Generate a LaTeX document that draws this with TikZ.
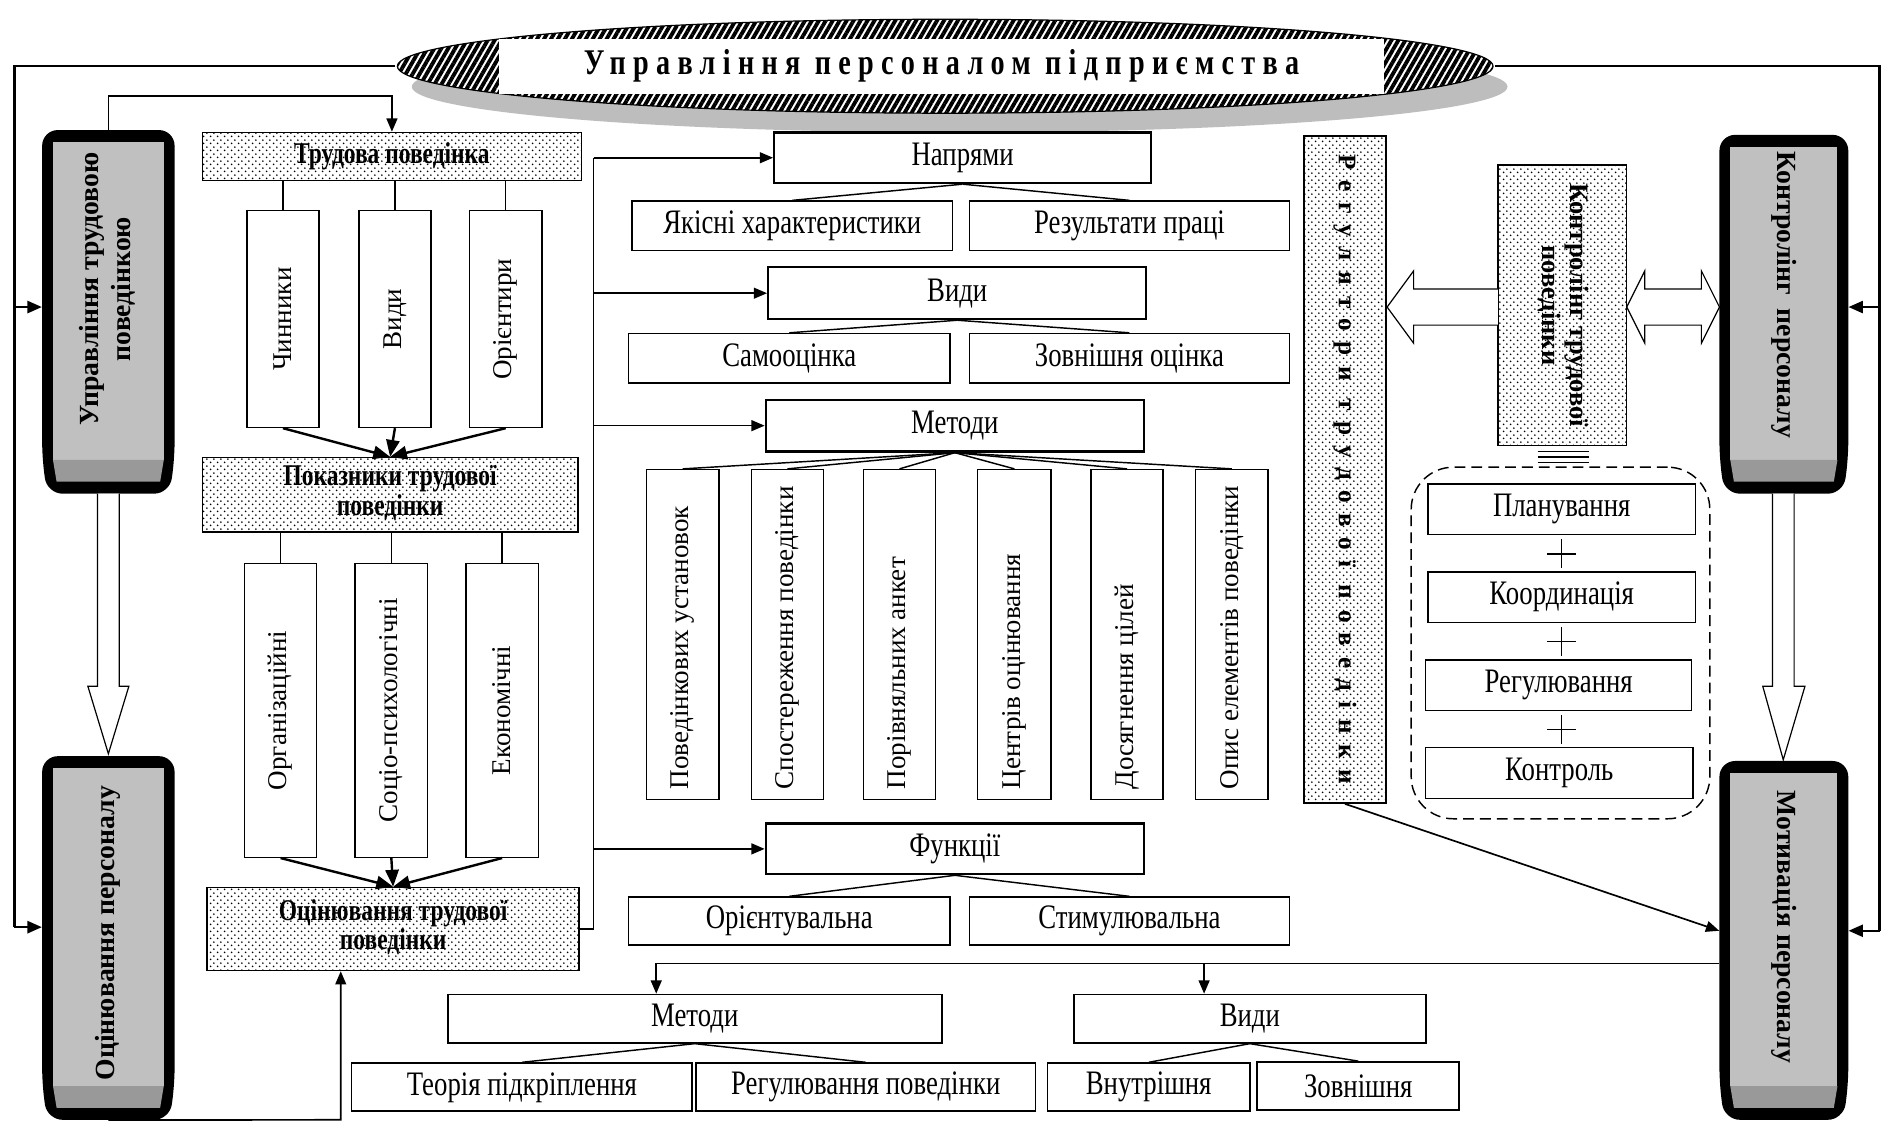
\documentclass[tikz,border=0pt]{standalone}
\usepackage{fontspec}
\setmainfont{Liberation Serif}
\usepackage{graphicx}
\usetikzlibrary{arrows.meta,patterns.meta,shapes.geometric,calc}

\definecolor{gLight}{HTML}{C0C0C0}
\definecolor{gDark}{HTML}{999999}
\definecolor{gShadow}{HTML}{BDBDBD}

\tikzdeclarepattern{
  name=dotfill,
  type=uncolored,
  bottom left={(0pt,0pt)},
  top right={(6pt,6pt)},
  tile size={(6pt,6pt)},
  code={\fill (1.5pt,1.5pt) circle (0.85pt); \fill (4.5pt,4.5pt) circle (0.85pt);}
}

\newcommand\hs[1]{\scalebox{0.78}[1]{#1}}
\newcommand\vs[1]{\scalebox{1}[1]{#1}}
\newcommand\tl[1]{\begin{tabular}{@{}c@{}}#1\end{tabular}}
\newcommand\fNorm{\fontsize{28.5}{30}\selectfont}
\newcommand\fRot{\fontsize{22.5}{24}\selectfont}
\newcommand\fDot{\fontsize{25}{24}\selectfont\bfseries}
\newcommand\fThick{\fontsize{23}{26}\selectfont\bfseries}
\newcommand\fKtp{\fontsize{22}{23}\selectfont\bfseries}
\newcommand\fReg{\fontsize{21}{22}\selectfont\bfseries\addfontfeature{LetterSpace=42}}
\newcommand\fTitle{\fontsize{30}{32}\selectfont\bfseries\addfontfeature{LetterSpace=26}}

% name, x1, y1, x2, y2
\newcommand\thickbox[5]{%
  \fill[black, rounded corners=13pt] (#2,#3) -- (#4,#3) -- (#4,#5-30) -- (#4-4,#5) -- (#2+4,#5) -- (#2,#5-30) -- cycle;
  \fill[gLight] (#2+9,#3+10) rectangle (#4-9,#5-28);
  \fill[gDark] (#2+9,#5-28) -- (#4-9,#5-28) -- (#4-12,#5-10) -- (#2+12,#5-10) -- cycle;
  \node[inner sep=0pt, minimum width=#4-#2, minimum height=#5-#3] (#1) at ({(#2+#4)/2},{(#3+#5)/2}) {};
}

\begin{document}
\begin{tikzpicture}[x=1pt,y=-1pt,
  line/.style={line width=1.2pt},
  oline/.style={line width=2pt},
  arr/.style={line width=1.4pt,-{Triangle[length=11pt,width=9pt]}},
  oarr/.style={line width=2pt,-{Triangle[length=12pt,width=10pt]}},
  carr/.style={line width=2pt,-{Triangle[length=14pt,width=11pt]}},
  box/.style={draw,line width=1.2pt,fill=white,inner sep=0pt},
  hbox/.style={box,line width=1.9pt},
  bbox/.style={box,line width=1.5pt},
  dbox/.style={draw,line width=1.2pt,preaction={fill=white},pattern=dotfill,inner sep=0pt},
  blk/.style={draw,line width=1pt,fill=white,line join=miter}
]
\useasboundingbox (0,0) rectangle (1568,935);
\fill[white] (0,0) rectangle (1568,935);

% ---------- title ----------
\fill[gShadow] (797,72) ellipse [x radius=455pt, y radius=38pt];
\node[ellipse,draw,line width=1pt,minimum width=910pt,minimum height=78pt,inner sep=0pt,
  preaction={fill=white},pattern={Lines[angle=60,distance=5pt,line width=3.2pt]}] (title) at (785,55) {};
\node[fill=white,inner sep=0pt,minimum width=735pt,minimum height=46pt] (titleT) at (782,55)
  {\fTitle\hs{Управління персоналом підприємства}};

% ---------- thick boxes ----------
\thickbox{utp}{35}{108}{145}{410}
\thickbox{op}{35}{628}{145}{930}
\thickbox{kp}{1428}{112}{1535}{410}
\thickbox{mp}{1428}{632}{1535}{930}
\node[inner sep=0pt] (utpT) at (90,240) {\rotatebox{90}{\fThick\vs{\tl{Управління трудовою\\поведінкою}}}};
\node[inner sep=0pt] (opT) at (90,775) {\rotatebox{90}{\fThick\vs{Оцінювання персоналу}}};
\node[inner sep=0pt] (kpT) at (1482,245) {\rotatebox{-90}{\fThick\vs{Контролінг\ \ персоналу}}};
\node[inner sep=0pt] (mpT) at (1482,770) {\rotatebox{-90}{\fThick\vs{Мотивація персоналу}}};

% block arrows (vertical)
\draw[blk] (81,410) -- (81,570) -- (73,570) -- (90,626) -- (107,570) -- (99,570) -- (99,410);
\draw[blk] (1472,410) -- (1472,570) -- (1464,570) -- (1481,631) -- (1499,570) -- (1490,570) -- (1490,410);

% ---------- left-middle column ----------
\node[dbox,minimum width=315pt,minimum height=40pt] (tp) at (325.5,130) {\fDot\hs{Трудова поведінка}};
\node[box,minimum width=60pt,minimum height=180pt] (ch) at (235,265) {\rotatebox{90}{\fRot\vs{Чинники}}};
\node[box,minimum width=60pt,minimum height=180pt] (vy) at (328,265) {\rotatebox{90}{\fRot\vs{Види}}};
\node[box,minimum width=60pt,minimum height=180pt] (ori) at (420,265) {\rotatebox{90}{\fRot\vs{Орієнтири}}};
\node[dbox,minimum width=312pt,minimum height=62pt] (ptp) at (324,411) {\fDot\hs{\tl{Показники трудової\\поведінки}}};
\node[box,minimum width=60pt,minimum height=244pt] (org) at (233,590) {\rotatebox{90}{\fRot\vs{Організаційні}}};
\node[box,minimum width=60pt,minimum height=244pt] (soc) at (325,590) {\rotatebox{90}{\fRot\vs{Соціо-психологічні}}};
\node[box,minimum width=60pt,minimum height=244pt] (eco) at (417,590) {\rotatebox{90}{\fRot\vs{Економічні}}};
\node[dbox,minimum width=309pt,minimum height=69pt] (otp) at (326.5,771.5) {\fDot\hs{\tl{Оцінювання трудової\\поведінки}}};

\foreach \n in {ch,vy,ori} \draw[line] (\n.north) -- (\n.north |- tp.south);
\foreach \n in {org,soc,eco} \draw[line] (\n.north) -- (\n.north |- ptp.south);
\foreach \n in {ch,vy,ori} \draw[carr] (\n.south) -- (ptp.north);
\foreach \n in {org,soc,eco} \draw[carr] (\n.south) -- (otp.north);

% ---------- centre column ----------
\node[hbox,minimum width=313pt,minimum height=42pt] (nap) at (799.5,131) {\fNorm\hs{Напрями}};
\node[box,minimum width=266pt,minimum height=41pt] (yak) at (658,187.5) {\fNorm\hs{Якісні характеристики}};
\node[box,minimum width=266pt,minimum height=41pt] (rez) at (938,187.5) {\fNorm\hs{Результати праці}};
\node[hbox,minimum width=314pt,minimum height=43pt] (vyd) at (795,243.5) {\fNorm\hs{Види}};
\node[box,minimum width=267pt,minimum height=41pt] (sam) at (655.5,297.5) {\fNorm\hs{Самооцінка}};
\node[box,minimum width=266pt,minimum height=41pt] (zov) at (938,297.5) {\fNorm\hs{Зовнішня оцінка}};
\node[hbox,minimum width=314pt,minimum height=43pt] (met) at (793,353.5) {\fNorm\hs{Методи}};
\node[box,minimum width=60pt,minimum height=274pt] (m1) at (567,527) {};
\node[box,minimum width=60pt,minimum height=274pt] (m2) at (654,527) {};
\node[box,minimum width=60pt,minimum height=274pt] (m3) at (747,527) {};
\node[box,minimum width=61pt,minimum height=274pt] (m4) at (842.5,527) {};
\node[box,minimum width=60pt,minimum height=274pt] (m5) at (936,527) {};
\node[box,minimum width=60pt,minimum height=274pt] (m6) at (1023,527) {};
\node[inner sep=0pt,anchor=south] (m1t) at ($(m1.south)+(0,-9)$) {\rotatebox{90}{\fRot\vs{Поведінкових установок}}};
\node[inner sep=0pt,anchor=south] (m2t) at ($(m2.south)+(0,-9)$) {\rotatebox{90}{\fRot\vs{Спостереження поведінки}}};
\node[inner sep=0pt,anchor=south] (m3t) at ($(m3.south)+(0,-9)$) {\rotatebox{90}{\fRot\vs{Порівняльних анкет}}};
\node[inner sep=0pt,anchor=south] (m4t) at ($(m4.south)+(0,-9)$) {\rotatebox{90}{\fRot\vs{Центрів оцінювання}}};
\node[inner sep=0pt,anchor=south] (m5t) at ($(m5.south)+(0,-9)$) {\rotatebox{90}{\fRot\vs{Досягнення цілей}}};
\node[inner sep=0pt,anchor=south] (m6t) at ($(m6.south)+(0,-9)$) {\rotatebox{90}{\fRot\vs{Опис елементів поведінки}}};
\node[hbox,minimum width=314pt,minimum height=42pt] (fun) at (793,705) {\fNorm\hs{Функції}};
\node[box,minimum width=267pt,minimum height=40pt] (orv) at (655.5,765) {\fNorm\hs{Орієнтувальна}};
\node[box,minimum width=266pt,minimum height=40pt] (sti) at (938,765) {\fNorm\hs{Стимулювальна}};

\draw[line] (nap.south) -- (yak.north); \draw[line] (nap.south) -- (rez.north);
\draw[line] (vyd.south) -- (sam.north); \draw[line] (vyd.south) -- (zov.north);
\foreach \n in {m1,m2,m3,m4,m5,m6} \draw[line] (met.south) -- (\n.north);
\draw[line] (fun.south) -- (orv.north); \draw[line] (fun.south) -- (sti.north);

% trunk from evaluation box
\coordinate (trB) at (493,771.5);
\coordinate (trT) at (493,131);
\draw[line] (otp.east) -- (trB) -- (trT);
\draw[arr] (trT) -- (nap.west);
\draw[arr] (trT |- vyd.west) -- (vyd.west);
\draw[arr] (trT |- met.west) -- (met.west);
\draw[arr] (trT |- fun.west) -- (fun.west);

% ---------- right part ----------
\node[dbox,minimum width=68pt,minimum height=554pt] (reg) at (1117,390) {\rotatebox{-90}{\fReg Регулятори трудової поведінки}};
\node[dbox,minimum width=107pt,minimum height=233pt] (ktp) at (1297.5,253.5) {\rotatebox{-90}{\fKtp\vs{\tl{Контролінг трудової\\поведінки}}}};
\draw[blk] (1244,240) -- (1174,240) -- (1174,225) -- (1152,255) -- (1174,285) -- (1174,270) -- (1244,270);
\draw[blk] (1351,255) -- (1366,225) -- (1366,240) -- (1413,240) -- (1413,225) -- (1428,255) -- (1413,285) -- (1413,270) -- (1366,270) -- (1366,285) -- cycle;
\draw[line width=1.3pt] (1277,375) -- (1320,375) (1277,379.5) -- (1320,379.5) (1277,384) -- (1320,384);

\node[draw,line width=1.2pt,dash pattern=on 9pt off 5pt,rounded corners=35pt,minimum width=248pt,minimum height=292pt,inner sep=0pt] (grp) at (1296,534) {};
\node[box,minimum width=222pt,minimum height=42pt] (pl) at (1297,423) {\fNorm\hs{Планування}};
\node[box,minimum width=222pt,minimum height=42pt] (ko) at (1297,496) {\fNorm\hs{Координація}};
\node[box,minimum width=221pt,minimum height=42pt] (rg) at (1294.5,569) {\fNorm\hs{Регулювання}};
\node[box,minimum width=222pt,minimum height=42pt] (kn) at (1295,642) {\fNorm\hs{Контроль}};
\foreach \yy in {460,533,606} \draw[line width=1.1pt] (1285,\yy) -- (1309,\yy) (1297,\yy-12) -- (1297,\yy+12);

% ---------- bottom ----------
\node[bbox,minimum width=410pt,minimum height=40pt] (bmet) at (577,846) {\fNorm\hs{Методи}};
\node[bbox,minimum width=292pt,minimum height=40pt] (bvyd) at (1038,846) {\fNorm\hs{Види}};
\node[bbox,minimum width=283pt,minimum height=40pt] (teo) at (433.5,903) {\fNorm\hs{Теорія підкріплення}};
\node[bbox,minimum width=282pt,minimum height=40pt] (rpv) at (719,903) {\fNorm\hs{Регулювання поведінки}};
\node[bbox,minimum width=168pt,minimum height=40pt] (vnu) at (954,903) {\fNorm\hs{Внутрішня}};
\node[bbox,minimum width=168pt,minimum height=40pt] (zv2) at (1128,902) {\fNorm\hs{Зовнішня}};
\draw[line] (bmet.south) -- (teo.north); \draw[line] (bmet.south) -- (rpv.north);
\draw[line] (bvyd.south) -- (vnu.north); \draw[line] (bvyd.south) -- (zv2.north);

\coordinate (bb1) at (545,800);
\coordinate (bb2) at (1000,800);
\draw[line] (mp.west |- bb1) -- (bb1);
\draw[arr] (bb1) -- (bb1 |- bmet.north);
\draw[arr] (bb2) -- (bb2 |- bvyd.north);

% ---------- outer loops ----------
\coordinate (Lt) at (12,55); \coordinate (Lm) at (12,255); \coordinate (Lb) at (12,770);
\coordinate (Rt) at (1561,55); \coordinate (Rm) at (1561,255); \coordinate (Rb) at (1561,773);
\draw[oline] (title.west) -- (Lt) -- (Lb);
\draw[oarr] (Lm) -- (utp.west |- Lm);
\draw[oarr] (Lb) -- (op.west |- Lb);
\draw[oline] (title.east) -- (Rt) -- (Rb);
\draw[oarr] (Rm) -- (kp.east |- Rm);
\draw[oarr] (Rb) -- (mp.east |- Rb);

\coordinate (u1) at (90,80);
\draw[arr] (utp.north) -- (u1) -| (tp.north);
\coordinate (b2) at (283,930);
\draw[arr] (op.south) -- (b2) -- (otp.south -| b2);

\draw[arr] (reg.south) -- (mp.west |- Rb);
\end{tikzpicture}
\end{document}
